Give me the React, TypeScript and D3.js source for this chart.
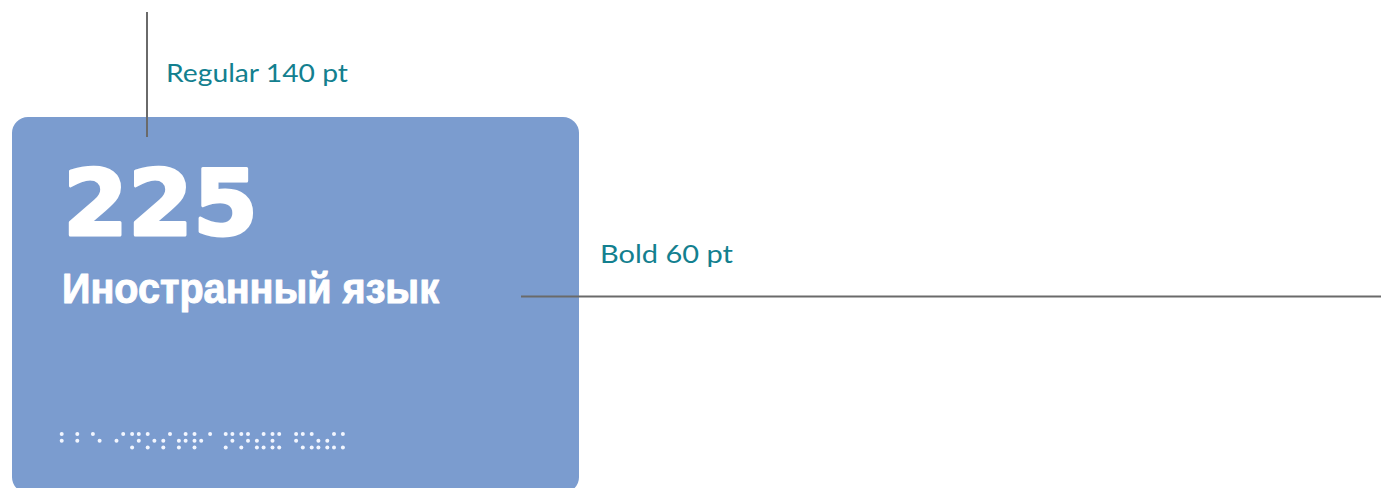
import React from "react";
import * as d3 from "d3";

const roomNumber = "225";
const roomTitle = "Иностранный язык";
const annotations = ["Regular 140 pt", "Bold 60 pt"];
// Braille words (dot numbers per cell) for "225 иностранный язык"
const brailleWords: number[][][] = [
  [[1, 2], [1, 2], [1, 5]],
  [[2, 4], [1, 3, 4, 5], [1, 3, 5], [2, 3, 4], [2, 3, 4, 5], [1, 2, 3, 5], [1], [1, 3, 4, 5], [1, 3, 4, 5], [2, 3, 4, 6], [1, 2, 3, 4, 6]],
  [[1, 2, 4, 6], [1, 3, 5, 6], [2, 3, 4, 6], [1, 3]],
];

const W = 1381;
const H = 488;
const teal = "#13808f";
const lineCol = "#6a6a6a";
const cardCol = "#7b9ccf";

export default function App() {
  const pitch = 15.6;
  const wordGap = 8;
  const dotStep = 6.7;
  const rowY = d3.scaleLinear().domain([0, 2]).range([434, 447.4]);
  const dots: { x: number; y: number }[] = [];
  let x0 = 61.7;
  brailleWords.forEach((word, wi) => {
    word.forEach((cell) => {
      cell.forEach((d) => {
        const col = d <= 3 ? 0 : 1;
        const row = (d - 1) % 3;
        dots.push({ x: x0 + col * dotStep, y: rowY(row) });
      });
      x0 += pitch;
    });
    if (wi < brailleWords.length - 1) x0 += wordGap;
  });

  return (
    <svg
      width={W}
      height={H}
      style={{ position: "absolute", left: 0, top: 0, background: "#fff" }}
    >
      <rect x={12} y={117} width={567} height={376} rx={16} ry={16} fill={cardCol} />
      <text
        x={63}
        y={235}
        fill="#fff"
        stroke="#fff"
        strokeWidth={3}
        strokeLinejoin="round"
        fontFamily="DejaVu Sans"
        fontWeight={700}
        fontSize={90}
        textLength={195}
        lengthAdjust="spacingAndGlyphs"
      >
        {roomNumber}
      </text>
      <text
        x={62}
        y={303}
        fill="#fff"
        stroke="#fff"
        strokeWidth={1}
        strokeLinejoin="round"
        fontFamily="Liberation Sans, Arial"
        fontWeight={700}
        fontSize={42}
        textLength={377}
        lengthAdjust="spacingAndGlyphs"
      >
        {roomTitle}
      </text>
      {dots.map((d, i) => (
        <circle key={i} cx={d.x} cy={d.y} r={2} fill="#f2f6ff" />
      ))}
      <line x1={147} y1={12} x2={147} y2={137} stroke={lineCol} strokeWidth={2} />
      <line x1={521} y1={296.5} x2={W} y2={296.5} stroke={lineCol} strokeWidth={2} />
      <text x={166} y={82} fill={teal} fontFamily="Lato" fontSize={25} textLength={182} lengthAdjust="spacingAndGlyphs">
        {annotations[0]}
      </text>
      <text x={600} y={263} fill={teal} fontFamily="Lato" fontSize={25} textLength={133} lengthAdjust="spacingAndGlyphs">
        {annotations[1]}
      </text>
    </svg>
  );
}
